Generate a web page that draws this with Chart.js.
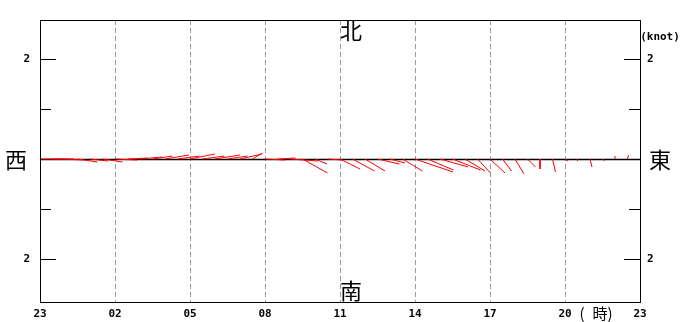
<!DOCTYPE html>
<html>
<head>
<meta charset="utf-8">
<script src="https://cdn.jsdelivr.net/npm/chart.js@4/dist/chart.umd.min.js"></script>
<style>
  body { margin: 0; background: #fff; }
</style>
</head>
<body>
<canvas id="currentChart" width="680" height="322"></canvas>
<script>
// hours after 23:00, one stick every 30 min
const hours = [0, 0.5, 1, 1.5, 2, 2.5, 3, 3.5, 4, 4.5, 5, 5.5, 6, 6.5, 7, 7.5,
               8, 8.5, 9, 9.5, 10, 10.5, 11, 11.5, 12, 12.5, 13, 13.5, 14, 14.5,
               15, 15.5, 16, 16.5, 17, 17.5, 18, 18.5, 19, 19.5, 20, 20.5, 21,
               21.5, 22, 22.5, 23, 23.5, 24];
// east component (knot)
const uEast = [0.50, 0.44, 0.36, 0.40, 0.36, 0.40, 0.44, 0.40, 0.44, 0.40, 0.48, 0.44,
               0.50, 0.44, 0.50, 0.40, 0.44, 0.20, 0.40, 0.36, 0.56, 0.50, 0.24, 0.30,
               0.40, 0.44, 0.40, 0.44, 0.30, 0.40, 0.76, 0.52, 0.56, 0.56, 0.40, 0.26,
               0.30, 0.18, 0.18, 0.16, 0.00, 0.06, 0.06, 0.00, 0.04, 0.04, 0.00, 0.02, 0.02];
// north component (knot)
const vNorth = [0.00, 0.00, -0.02, -0.06, -0.04, -0.06, -0.02, 0.02, 0.04, 0.06, 0.08, 0.06,
                0.10, 0.06, 0.08, 0.06, 0.10, 0.12, -0.02, 0.02, -0.04, -0.28, -0.10, -0.02,
                -0.20, -0.24, -0.24, -0.10, -0.08, -0.24, -0.26, -0.22, -0.16, -0.22, -0.24, -0.28,
                -0.28, -0.24, -0.30, -0.16, -0.20, -0.26, -0.04, -0.04, -0.16, -0.04, 0.06, 0.08, 0.02];
const hourLabels = ["23", "02", "05", "08", "11", "14", "17", "20", "23"];
const speedTicks = [-2, -1, 2, 1];

const hoursPerKnot = 2; // same length on screen for east and north

const sticks = [];
hours.forEach(function (t, i) {
  sticks.push({x: t, y: 0});
  sticks.push({x: t + uEast[i] * hoursPerKnot, y: vNorth[i]});
  sticks.push({x: t, y: null});
});

const monoFont = {family: "'DejaVu Sans Mono', monospace", size: 11, weight: 'bold'};
const cjk = "'Noto Sans CJK JP', 'Noto Sans CJK SC', sans-serif";

const decor = {
  id: 'decor',
  beforeDatasetsDraw(chart) {
    const {ctx, chartArea: a, scales} = chart;
    ctx.save();
    // dashed hour lines
    ctx.strokeStyle = '#9a9a9a';
    ctx.lineWidth = 1;
    ctx.setLineDash([5, 3]);
    for (let h = 3; h < 24; h += 3) {
      const px = Math.round(scales.x.getPixelForValue(h)) + 0.5;
      ctx.beginPath();
      ctx.moveTo(px, a.top);
      ctx.lineTo(px, a.bottom);
      ctx.stroke();
    }
    ctx.setLineDash([]);
    // zero line
    const y0 = Math.round(scales.y.getPixelForValue(0)) + 0.5;
    ctx.strokeStyle = '#000';
    ctx.lineWidth = 1.5;
    ctx.beginPath();
    ctx.moveTo(a.left, y0);
    ctx.lineTo(a.right, y0);
    ctx.stroke();
    ctx.restore();
  },
  afterDraw(chart) {
    const {ctx, chartArea: a, scales} = chart;
    ctx.save();
    ctx.strokeStyle = '#000';
    ctx.lineWidth = 1;
    ctx.strokeRect(Math.round(a.left) + 0.5, Math.round(a.top) + 0.5,
                   Math.round(a.right - a.left), Math.round(a.bottom - a.top));
    // inward tick marks
    speedTicks.forEach(function (v) {
      const len = Math.abs(v) === 2 ? 16 : 11;
      const py = Math.round(scales.y.getPixelForValue(v)) + 0.5;
      ctx.beginPath();
      ctx.moveTo(a.left, py);
      ctx.lineTo(a.left + len, py);
      ctx.moveTo(a.right, py);
      ctx.lineTo(a.right - len, py);
      ctx.stroke();
    });
    ctx.fillStyle = '#000';
    ctx.textAlign = 'center';
    ctx.textBaseline = 'middle';
    ctx.font = '22px ' + cjk;
    ctx.fillText('北', 351, 31);
    ctx.fillText('南', 351, 291);
    ctx.fillText('西', 16, 160);
    ctx.fillText('東', 660, 160);
    ctx.font = 'bold 11px ' + monoFont.family;
    ctx.fillText('(knot)', 660, 37);
    ctx.font = '15px ' + cjk;
    ctx.fillText('(', 582, 313);
    ctx.fillText('時', 600, 313);
    ctx.fillText(')', 610, 313);
    ctx.restore();
  }
};

function speedAxis(position) {
  return {
    position: position,
    min: -2.86,
    max: 2.78,
    grid: {display: false, drawTicks: false},
    border: {display: false},
    afterBuildTicks: function (scale) {
      scale.ticks = [{value: -2}, {value: 2}];
    },
    afterFit: function (scale) { scale.width = 40; },
    ticks: {
      color: '#000',
      font: monoFont,
      padding: position === 'left' ? 10 : 7,
      callback: function (v) { return Math.abs(v); }
    }
  };
}

new Chart(document.getElementById('currentChart'), {
  type: 'scatter',
  data: {
    datasets: [{
      data: sticks,
      showLine: true,
      spanGaps: false,
      borderColor: '#ff0000',
      borderWidth: 1,
      pointRadius: 0,
      pointHoverRadius: 0
    }]
  },
  options: {
    responsive: false,
    animation: false,
    events: [],
    layout: {padding: {top: 20, left: 0, right: 0, bottom: 0}},
    plugins: {legend: {display: false}, tooltip: {enabled: false}},
    scales: {
      x: {
        type: 'linear',
        min: 0,
        max: 24,
        grid: {display: false, drawTicks: false},
        border: {display: false},
        afterBuildTicks: function (scale) {
          scale.ticks = hourLabels.map(function (l, i) { return {value: i * 3}; });
        },
        afterFit: function (scale) { scale.height = 20; },
        ticks: {
          color: '#000',
          font: monoFont,
          padding: 6,
          maxRotation: 0,
          autoSkip: false,
          callback: function (v) { return hourLabels[Math.round(v / 3)]; }
        }
      },
      y: speedAxis('left'),
      y2: speedAxis('right')
    }
  },
  plugins: [decor]
});
</script>
</body>
</html>
